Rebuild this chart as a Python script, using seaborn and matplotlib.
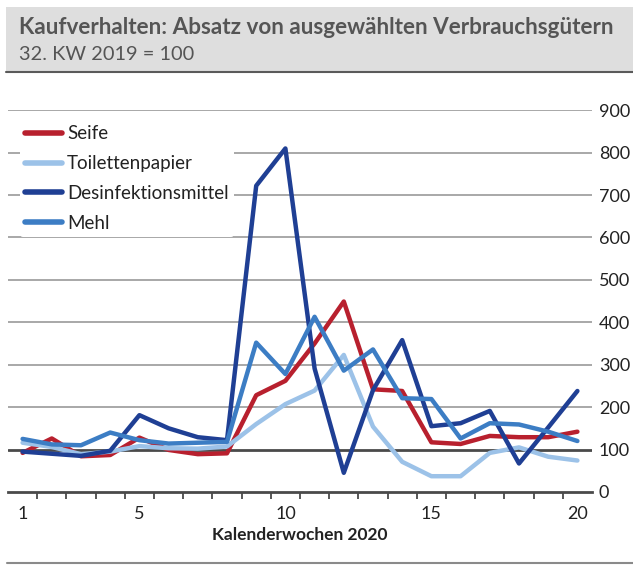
import matplotlib
matplotlib.use("Agg")
import matplotlib.pyplot as plt
from matplotlib.patches import Rectangle
from matplotlib.lines import Line2D
import seaborn as sns
import pandas as pd
import numpy as np

weeks = list(range(1, 21))
seife = [92, 126, 84, 87, 128, 99, 89, 91, 228, 262, 350, 449, 242, 238, 117, 113, 132, 129, 129, 142]
toilettenpapier = [116, 106, 89, 95, 108, 103, 102, 107, 160, 207, 239, 323, 154, 71, 37, 37, 92, 105, 83, 74]
desinfektionsmittel = [95, 90, 85, 97, 181, 150, 129, 122, 722, 810, 291, 45, 240, 358, 155, 162, 191, 67, 152, 238]
mehl = [125, 112, 110, 140, 122, 114, 116, 118, 352, 278, 413, 286, 336, 221, 219, 126, 162, 159, 142, 120]
series_names = ["Seife", "Toilettenpapier", "Desinfektionsmittel", "Mehl"]
colors = ["#b8202e", "#9cc2e8", "#1f3f94", "#3c7dc4"]
yticks = [0, 100, 200, 300, 400, 500, 600, 700, 800, 900]
xtick_labels = ["1", "5", "10", "15", "20"]
xtick_weeks = [1, 5, 10, 15, 20]

rows = []
for name, vals in zip(series_names, [seife, toilettenpapier, desinfektionsmittel, mehl]):
    for w, v in zip(weeks, vals):
        rows.append({"Woche": w, "Wert": v, "Serie": name})
df = pd.DataFrame(rows)

sns.set_theme(style="white")
plt.rcParams['font.family'] = ['Lato', 'DejaVu Sans']

W, H = 633, 566
fig = plt.figure(figsize=(W / 100, H / 100), dpi=100)
renderer = fig.canvas.get_renderer()

def fx(px):
    return px / W

def fy(py):
    return 1 - py / H

def fit(txt, target_px, base=14.0):
    txt.set_fontsize(base)
    w = txt.get_window_extent(renderer=renderer).width
    txt.set_fontsize(base * target_px / w)

# Title box
fig.patches.append(Rectangle((fx(6), fy(71)), 1 - fx(6), fy(7) - fy(71),
                             transform=fig.transFigure, facecolor="#dedede",
                             edgecolor="none", zorder=0))
fig.lines.append(Line2D([fx(6), 1], [fy(71.5), fy(71.5)], transform=fig.transFigure,
                        color="#5a5a5a", lw=1.5))
fig.lines.append(Line2D([fx(7), 1], [fy(563), fy(563)], transform=fig.transFigure,
                        color="#8a8a8a", lw=1.5))
t1 = fig.text(fx(19), fy(27), "Kaufverhalten: Absatz von ausgewählten Verbrauchsgütern",
              fontweight="bold", color="#555555", va="center", ha="left")
fit(t1, 601)
t2 = fig.text(fx(19), fy(54), "32. KW 2019 = 100", color="#555555",
              va="center", ha="left")
fit(t2, 176)

left, right = 8, 592
top, bottom = 110.3, 491.9
ax = fig.add_axes([fx(left), fy(bottom), fx(right - left), fy(top) - fy(bottom)])

ax.set_xlim(0.5, 20.5)
ax.set_ylim(0, 900)

# gridlines
for y in yticks:
    if y in (0, 100):
        continue
    ax.axhline(y, color="#a8a8a8", lw=1.4, zorder=1)
ax.axhline(100, color="#4a4a4a", lw=2.0, zorder=1)

sns.lineplot(data=df, x="Woche", y="Wert", hue="Serie", hue_order=series_names,
             palette=colors, lw=3.2, ax=ax, zorder=3, sort=False)

# stacking order: red on top
z_order = {"Seife": 3.4, "Desinfektionsmittel": 3.3, "Mehl": 3.2, "Toilettenpapier": 3.1}
for line, name in zip(ax.get_lines()[-4:], series_names):
    line.set_zorder(z_order[name])

for s in ["top", "left", "right"]:
    ax.spines[s].set_visible(False)
ax.spines["bottom"].set_color("#4a4a4a")
ax.spines["bottom"].set_linewidth(2.0)

ax.yaxis.tick_right()
ax.set_yticks(yticks)
ax.set_yticklabels([str(y) for y in yticks])
ax.tick_params(axis="y", length=0, pad=5, labelsize=13, labelcolor="#222222")

ax.set_xticks(np.arange(1.5, 20.5, 1.0))
ax.set_xticklabels([])
ax.tick_params(axis="x", which="major", direction="out", length=5, width=1.3,
               color="#4a4a4a", bottom=True)
ax.set_xticks(xtick_weeks, minor=True)
ax.set_xticklabels(xtick_labels, minor=True)
ax.tick_params(axis="x", which="minor", length=0, pad=10, labelsize=13,
               labelcolor="#222222")

xl = ax.set_xlabel("Kalenderwochen 2020", fontweight="bold", color="#222222",
                   labelpad=4)
fit(xl, 175, 12)
ax.set_ylabel("")
ax.grid(False)

leg_fs = 13.5
leg = ax.legend(loc="upper left", bbox_to_anchor=((19.5 - left) / (right - left), 0.975),
                frameon=True, fontsize=leg_fs, handlelength=1.97, handletextpad=0.27,
                labelspacing=0.68, borderpad=0.3, borderaxespad=0.0)
leg.get_frame().set_facecolor("white")
leg.get_frame().set_edgecolor("none")
leg.get_frame().set_alpha(1.0)
leg.set_zorder(5)
for t in leg.get_texts():
    t.set_color("#222222")
for h in leg.get_lines():
    h.set_linewidth(4)

fig.savefig("out.png", dpi=100)
